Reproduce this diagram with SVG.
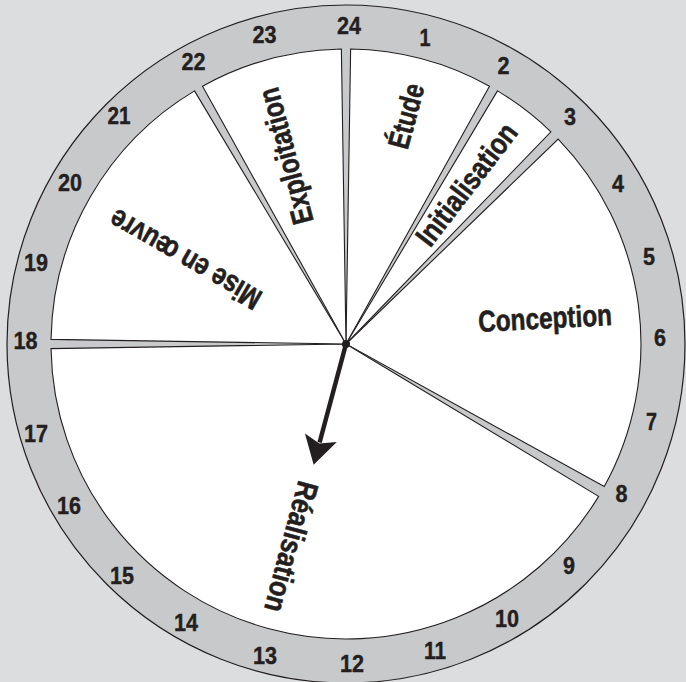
<svg xmlns="http://www.w3.org/2000/svg" width="686" height="682" viewBox="0 0 686 682">
<style>
.bg{fill:#dcdddf}
.ring{fill:#c8c9cb;stroke:#231f20;stroke-width:1.2}
.sector{fill:#ffffff;stroke:#231f20;stroke-width:1.1;stroke-linejoin:miter}
.num{font-family:"Liberation Sans",Arial,sans-serif;font-weight:bold;font-size:24px;fill:#231f20;stroke:#231f20;stroke-width:0.4;text-anchor:middle}
.lbl{font-family:"Liberation Sans",Arial,sans-serif;font-weight:bold;font-size:30px;fill:#231f20;stroke:#231f20;stroke-width:0.6;text-anchor:middle}
</style>
<rect class="bg" x="0" y="0" width="686" height="682"/>
<g id="dial">
<circle class="ring" cx="346" cy="344" r="339"/>
<g id="numbers">
<text class="num" x="349" y="34" textLength="24" lengthAdjust="spacingAndGlyphs">24</text>
<text class="num" x="425" y="45.5" textLength="11" lengthAdjust="spacingAndGlyphs">1</text>
<text class="num" x="503.5" y="74" textLength="12" lengthAdjust="spacingAndGlyphs">2</text>
<text class="num" x="570" y="125" textLength="12" lengthAdjust="spacingAndGlyphs">3</text>
<text class="num" x="618" y="191.5" textLength="12" lengthAdjust="spacingAndGlyphs">4</text>
<text class="num" x="649" y="264.5" textLength="12" lengthAdjust="spacingAndGlyphs">5</text>
<text class="num" x="660" y="345.5" textLength="12" lengthAdjust="spacingAndGlyphs">6</text>
<text class="num" x="651.5" y="430" textLength="11" lengthAdjust="spacingAndGlyphs">7</text>
<text class="num" x="621.5" y="502" textLength="12" lengthAdjust="spacingAndGlyphs">8</text>
<text class="num" x="569" y="573.5" textLength="12" lengthAdjust="spacingAndGlyphs">9</text>
<text class="num" x="507" y="626.5" textLength="24" lengthAdjust="spacingAndGlyphs">10</text>
<text class="num" x="435" y="658.5" textLength="22" lengthAdjust="spacingAndGlyphs">11</text>
<text class="num" x="352" y="671.5" textLength="24" lengthAdjust="spacingAndGlyphs">12</text>
<text class="num" x="265" y="663.5" textLength="24" lengthAdjust="spacingAndGlyphs">13</text>
<text class="num" x="186" y="630.5" textLength="24" lengthAdjust="spacingAndGlyphs">14</text>
<text class="num" x="122" y="583.5" textLength="24" lengthAdjust="spacingAndGlyphs">15</text>
<text class="num" x="69" y="513.5" textLength="24" lengthAdjust="spacingAndGlyphs">16</text>
<text class="num" x="36" y="441.5" textLength="24" lengthAdjust="spacingAndGlyphs">17</text>
<text class="num" x="25.5" y="349" textLength="24" lengthAdjust="spacingAndGlyphs">18</text>
<text class="num" x="36" y="270.5" textLength="24" lengthAdjust="spacingAndGlyphs">19</text>
<text class="num" x="70" y="190.5" textLength="24" lengthAdjust="spacingAndGlyphs">20</text>
<text class="num" x="119" y="123.5" textLength="23" lengthAdjust="spacingAndGlyphs">21</text>
<text class="num" x="193.5" y="70" textLength="24" lengthAdjust="spacingAndGlyphs">22</text>
<text class="num" x="264.5" y="43" textLength="24" lengthAdjust="spacingAndGlyphs">23</text>
</g>
</g>
<g id="etude">
<path class="sector" d="M346 344 L350.63 49.04 A295 295 0 0 1 489.47 86.24 Z"/>
<text class="lbl" transform="translate(406 116) rotate(-75)" x="0" y="10.5" textLength="66" lengthAdjust="spacingAndGlyphs">Étude</text>
</g>
<g id="initialisation">
<path class="sector" d="M346 344 L497.48 90.86 A295 295 0 0 1 550.92 131.80 Z"/>
<text class="lbl" transform="translate(466 184) rotate(-52.5)" x="0" y="11" textLength="146" lengthAdjust="spacingAndGlyphs">Initialisation</text>
</g>
<g id="conception">
<path class="sector" d="M346 344 L558.20 139.08 A295 295 0 0 1 604.22 486.57 Z"/>
<text class="lbl" transform="translate(545 318) rotate(-3)" x="0" y="10.5" textLength="134" lengthAdjust="spacingAndGlyphs">Conception</text>
</g>
<g id="realisation">
<path class="sector" d="M346 344 L598.60 496.38 A295 295 0 0 1 51.04 348.63 Z"/>
<text class="lbl" transform="translate(292 547) rotate(105)" x="0" y="11" textLength="134" lengthAdjust="spacingAndGlyphs">Réalisation</text>
</g>
<g id="mise-en-oeuvre">
<path class="sector" d="M346 344 L51.04 339.37 A295 295 0 0 1 194.52 90.86 Z"/>
<text class="lbl" transform="translate(185 260) rotate(-150)" x="0" y="11" textLength="170" lengthAdjust="spacingAndGlyphs">Mise en œuvre</text>
</g>
<g id="exploitation">
<path class="sector" d="M346 344 L202.53 86.24 A295 295 0 0 1 341.37 49.04 Z"/>
<text class="lbl" transform="translate(286 156) rotate(-105)" x="0" y="10" textLength="140" lengthAdjust="spacingAndGlyphs">Exploitation</text>
</g>
<g id="connectors">
<g id="hand" transform="translate(346 344) rotate(15)">
<line x1="0" y1="0" x2="0" y2="102" stroke="#231f20" stroke-width="4.5"/>
<polygon points="0,125 16.5,97 0,103 -16.5,97" fill="#231f20"/>
<circle cx="0" cy="0" r="4" fill="#231f20"/>
</g>
</g>
</svg>
